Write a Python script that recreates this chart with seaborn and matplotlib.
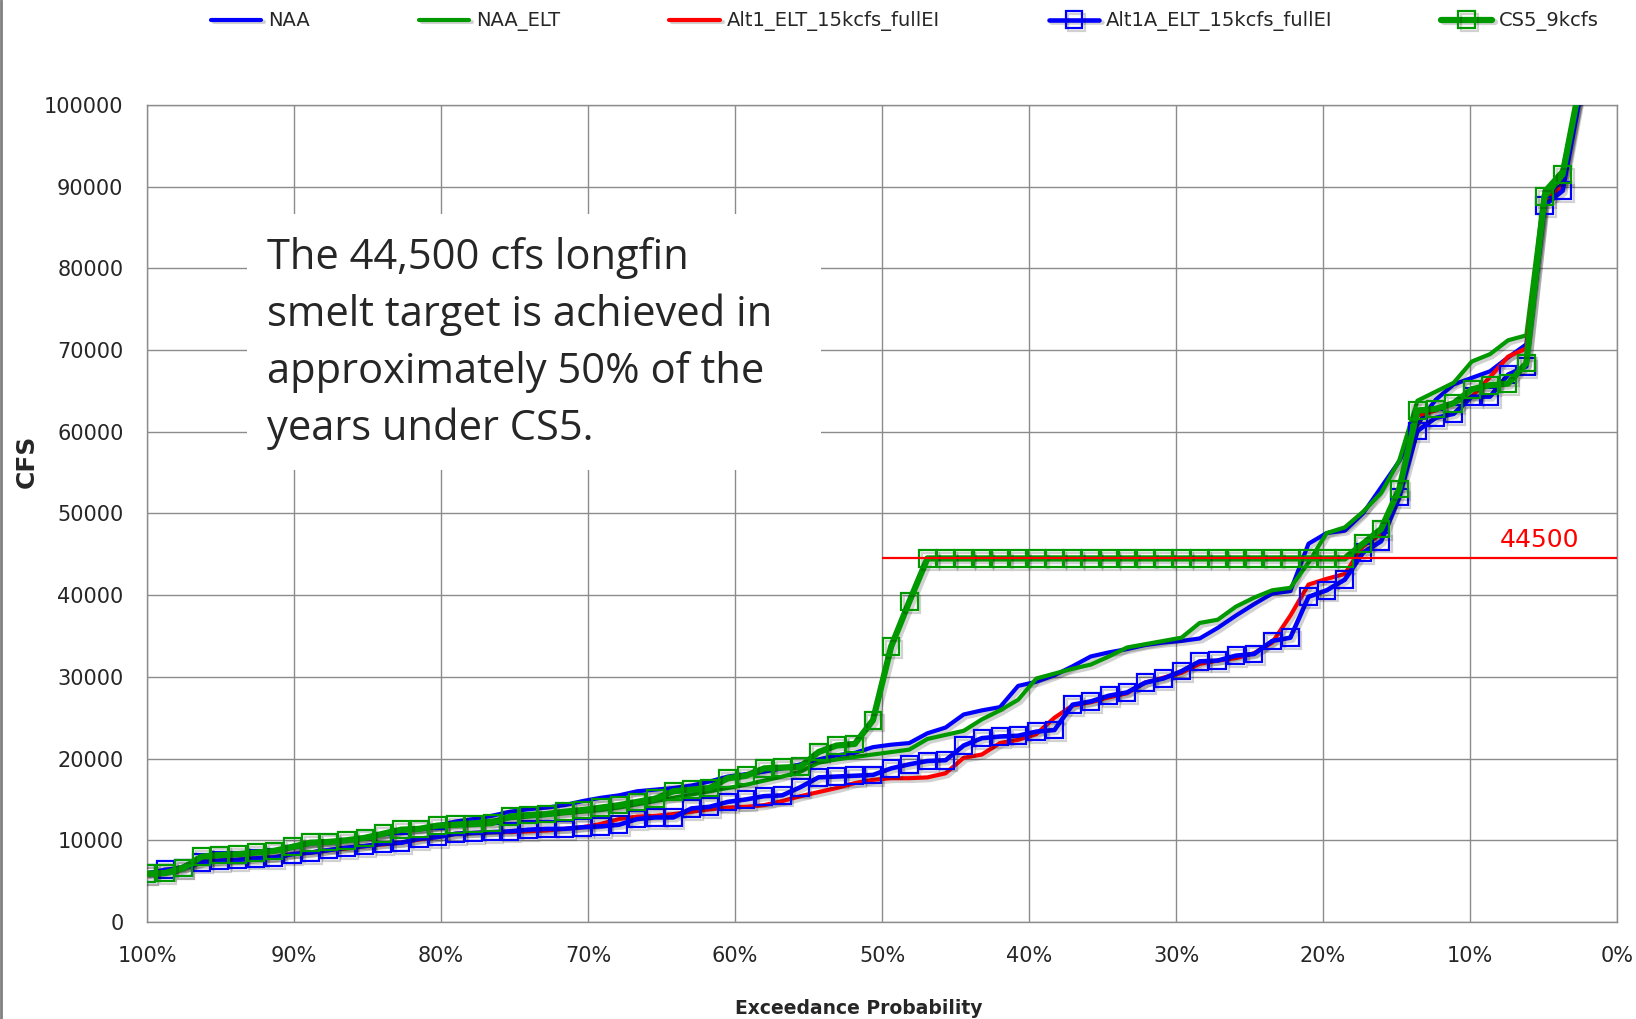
import numpy as np
import matplotlib
matplotlib.use("Agg")
import matplotlib.pyplot as plt
import matplotlib.patheffects as pe
from matplotlib.lines import Line2D
from matplotlib.patches import Rectangle
import seaborn as sns

# yearly flows (cfs), sorted low -> high, 81 years
naa = [6000, 6200, 6800, 7800, 8100, 8300, 8500, 8700, 9100, 9600, 9800, 10000, 10300, 10700, 11200, 11400, 11800,
       12300, 12600, 13000, 13500, 13800, 14000, 14300, 14800, 15200, 15500, 16000, 16200, 16400, 16700, 17200, 17800, 18100,
       18400, 18800, 19300, 19900, 20400, 20700, 21400, 21700, 21900, 23100, 23800, 25400, 25900, 26300, 28900, 29400,
       30200, 31300, 32500, 33000, 33400, 33900, 34200, 34400, 34700, 36000, 37500, 38900, 40200, 40500, 46300, 47600, 47900,
       50000, 53200, 56400, 60900, 63900, 65800, 66600, 67400, 69100, 70700, 88700, 90300, 102000, 126000]
naa_elt = [6000, 6200, 6800, 7900, 8200, 8300, 8500, 8700, 9100, 9700, 9800, 10000, 10300, 10800, 11200, 11400, 11700,
           12000, 12200, 12400, 12700, 12900, 13100, 13300, 13500, 13700, 14000, 14400, 14800, 15200, 15600, 16000, 16400, 16800,
           17300, 17800, 18400, 19500, 19900, 20200, 20500, 20800, 21100, 22400, 22900, 23400, 24800, 25900, 27200, 29800,
           30400, 31000, 31500, 32500, 33600, 34000, 34400, 34800, 36600, 37000, 38600, 39700, 40600, 40900, 44000, 47600, 48300,
           50200, 52500, 56500, 63800, 64900, 66000, 68600, 69500, 71200, 71800, 89500, 92000, 103000, 127000]
alt1 = [5900, 6300, 6600, 7300, 7500, 7600, 7800, 7900, 8300, 8500, 8800, 9000, 9300, 9500, 9700, 10100, 10400,
        10800, 10900, 11000, 11000, 11100, 11200, 11400, 11600, 12000, 12600, 12900, 13000, 13200, 13500, 13800, 14000, 14100,
        14300, 14800, 15400, 15900, 16400, 17000, 17400, 17600, 17600, 17700, 18200, 20100, 20500, 21900, 22300, 23000,
        25000, 26500, 26900, 27500, 28000, 29300, 29900, 30500, 31600, 32000, 32300, 32900, 34200, 37500, 41300, 42000, 42600,
        46000, 47500, 53000, 62000, 62600, 63600, 64300, 66700, 69200, 70200, 88300, 90000, 102000, 125000]
alt1a = [5900, 6400, 6600, 7300, 7500, 7600, 7800, 7900, 8300, 8500, 8800, 9100, 9300, 9600, 9700, 10200, 10400,
         10800, 10900, 11000, 11100, 11300, 11400, 11400, 11600, 11700, 11900, 12600, 12800, 12800, 13900, 14100, 14700, 15000,
         15400, 15500, 16500, 17700, 17800, 17900, 18000, 18800, 19300, 19700, 19800, 21600, 22500, 22700, 22800, 23300,
         23500, 26600, 27000, 27700, 28100, 29300, 29800, 30700, 31900, 32000, 32600, 32800, 34400, 34800, 39800, 40600, 41900,
         45200, 46600, 52000, 60100, 61700, 62200, 64300, 64300, 67000, 68000, 87700, 89500, 101500, 124000]
cs5 = [5900, 6000, 6600, 8000, 8200, 8300, 8500, 8700, 9200, 9700, 9800, 10000, 10300, 10800, 11300, 11400, 11800,
       11900, 12000, 12100, 12900, 13100, 13200, 13500, 13700, 14000, 14300, 14700, 15100, 16000, 16200, 16400, 17600, 17900,
       18800, 18900, 19000, 20800, 21600, 21800, 24700, 33700, 39200, 44500, 44500, 44500, 44500, 44500, 44500, 44500,
       44500, 44500, 44500, 44500, 44500, 44500, 44500, 44500, 44500, 44500, 44500, 44500, 44500, 44500, 44500, 44500, 44500,
       46300, 48100, 53000, 62600, 62800, 63500, 65200, 65700, 65900, 68400, 88800, 91500, 103000, 127000]

target = 44500
target_from = 50          # target line drawn from 50% exceedance to 0%
ytick_vals = list(range(0, 100001, 10000))
xtick_vals = list(range(0, 101, 10))
note = ("The 44,500 cfs longfin\nsmelt target is achieved in\n"
        "approximately 50% of the\nyears under CS5.")

n = len(naa)
exceed = 100 * (n - np.arange(n)) / n   # exceedance probability in %

BLUE, GREEN, RED, GRID = "#0000FF", "#009900", "#FF0000", "#8c8c8c"

sns.set_style("white")
plt.rcParams["font.family"] = ["DejaVu Sans"]

fig = plt.figure(figsize=(16.36, 10.19), dpi=100)
ax = fig.add_axes([0.0899, 0.0952, 0.8985, 0.8018])

shadow = [pe.SimpleLineShadow(offset=(2, -2), shadow_color="black", alpha=0.18), pe.Normal()]

series = [
    ("NAA", naa, BLUE, 3.0, None),
    ("NAA_ELT", naa_elt, GREEN, 3.0, None),
    ("Alt1_ELT_15kcfs_fullEI", alt1, RED, 3.0, None),
    ("Alt1A_ELT_15kcfs_fullEI", alt1a, BLUE, 3.3, "s"),
    ("CS5_9kcfs", cs5, GREEN, 4.5, "s"),
]
for i, (name, vals, color, lw, marker) in enumerate(series):
    kw = {}
    if marker:
        kw = dict(marker=marker, markersize=12, markerfacecolor="none",
                  markeredgecolor=color, markeredgewidth=1.6)
    sns.lineplot(x=exceed, y=vals, ax=ax, color=color, linewidth=lw, estimator=None,
                 label=name, zorder=3 + i, path_effects=shadow, **kw)

if ax.get_legend():
    ax.get_legend().remove()
handles, labels = ax.get_legend_handles_labels()

# target line and label
ax.hlines(target, target_from, 0, color=RED, lw=1.6, zorder=9)
ax.text(5.3, target + 1400, str(target), color=RED, fontsize=18, ha="center", va="baseline", zorder=9)

# white note box
ax.add_patch(Rectangle((0.0683, 0.553), 0.3905, 0.3136, transform=ax.transAxes,
                       facecolor="white", edgecolor="none", zorder=1))
ax.text(0.0816, 0.838, note, transform=ax.transAxes, fontsize=30, family=["Open Sans", "DejaVu Sans"],
        va="top", ha="left", linespacing=1.45, zorder=10)

ax.set_xlim(100, 0)
ax.set_ylim(0, 100000)
ax.set_xticks(xtick_vals)
ax.set_xticklabels([f"{v}%" for v in xtick_vals])
ax.set_yticks(ytick_vals)
ax.set_yticklabels([str(v) for v in ytick_vals])
ax.grid(True, color=GRID, lw=1.0)
ax.set_axisbelow(True)
ax.tick_params(axis="both", direction="out", length=6, width=1, color=GRID, labelsize=15, pad=11)
for s in ax.spines.values():
    s.set_color(GRID)
    s.set_linewidth(1.0)

ax.set_xlabel("Exceedance Probability", fontsize=13.5, fontweight="bold")
ax.xaxis.set_label_coords(0.484, -0.094)
ax.set_ylabel("CFS", fontsize=18, fontweight="bold")
ax.yaxis.set_label_coords(-0.074, 0.564)

fig.legend(handles, labels, loc="upper center", bbox_to_anchor=(0.553, 1.006), ncol=5, frameon=False,
           fontsize=14, handlelength=2.6, handletextpad=0.35, columnspacing=5.6)

fig.add_artist(Line2D([0.0008, 0.0008], [0, 1], color="#808080", lw=2, transform=fig.transFigure))

fig.savefig("out.png", dpi=100)
